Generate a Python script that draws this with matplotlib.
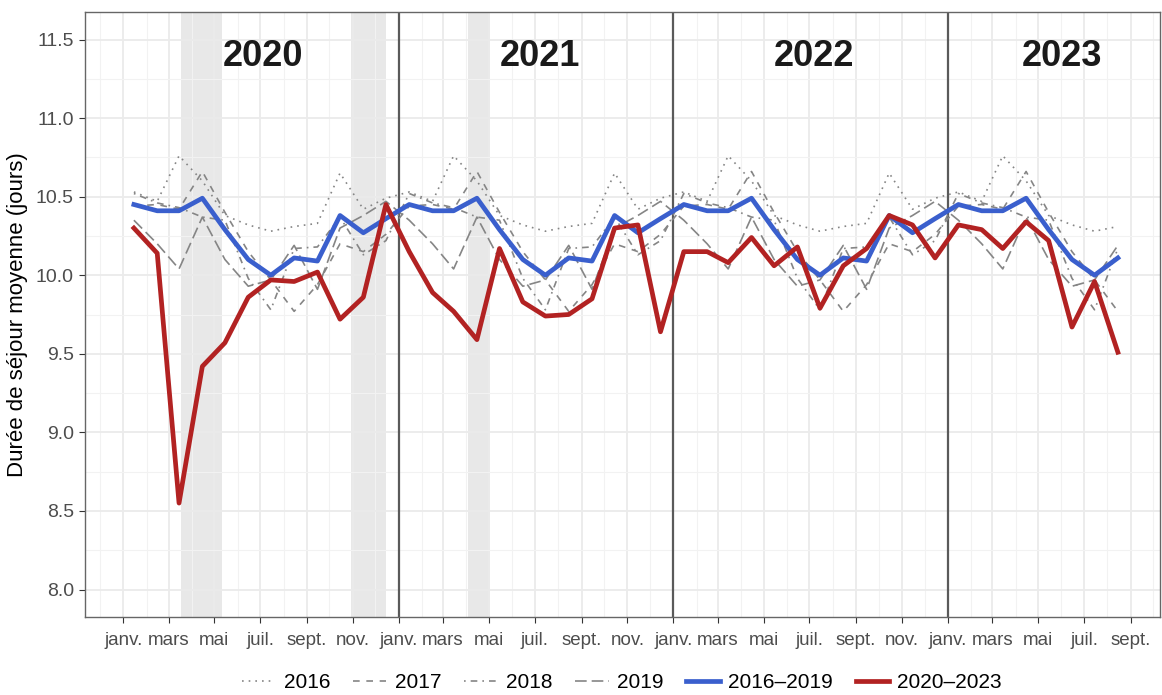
import matplotlib
matplotlib.use("Agg")
import matplotlib.pyplot as plt
import matplotlib.dates as mdates
import matplotlib.ticker as mticker
import numpy as np
import pandas as pd

plt.rcParams['font.family'] = ['Liberation Sans', 'DejaVu Sans']

# monthly data, Jan 2020 -> Aug 2023 (points drawn mid-month)
n_months = 44
dates = [pd.Timestamp(2020 + i // 12, i % 12 + 1, 15) for i in range(n_months)]

# reference years, one value per calendar month (janv. -> déc.)
y2016 = [10.53, 10.47, 10.76, 10.60, 10.38, 10.32, 10.28, 10.31, 10.33, 10.65, 10.42, 10.49]
y2017 = [10.44, 10.45, 10.42, 10.66, 10.40, 10.15, 9.97, 9.77, 9.94, 10.20, 10.15, 10.26]
y2018 = [10.52, 10.46, 10.43, 10.37, 10.35, 9.98, 9.78, 10.17, 10.18, 10.37, 10.13, 10.22]
y2019 = [10.35, 10.20, 10.04, 10.37, 10.10, 9.93, 9.97, 10.19, 9.91, 10.30, 10.38, 10.47]
mean_2016_2019 = [10.45, 10.41, 10.41, 10.49, 10.29, 10.10, 10.00, 10.11, 10.09, 10.38, 10.27, 10.36]

# observed 2020-2023
obs_2020_2023 = [
    10.30, 10.14, 8.55, 9.42, 9.57, 9.86, 9.97, 9.96, 10.02, 9.72, 9.86, 10.45,   # 2020
    10.15, 9.89, 9.77, 9.59, 10.17, 9.83, 9.74, 9.75, 9.85, 10.30, 10.32, 9.64,   # 2021
    10.15, 10.15, 10.08, 10.24, 10.06, 10.18, 9.79, 10.06, 10.17, 10.38, 10.32, 10.11,  # 2022
    10.32, 10.29, 10.17, 10.34, 10.22, 9.67, 9.96, 9.51,                          # 2023
]

# confinement periods (shaded)
lockdowns = [("2020-03-17", "2020-05-11"), ("2020-10-30", "2020-12-15"), ("2021-04-03", "2021-05-03")]
years = [2020, 2021, 2022, 2023]
year_label_dates = ["2020-07-04", "2021-07-08", "2022-07-07", "2023-06-01"]
month_labels = {1: "janv.", 3: "mars", 5: "mai", 7: "juil.", 9: "sept.", 11: "nov."}


def repeat_years(vals):
    return np.tile(vals, 4)[:n_months]


fig = plt.figure(figsize=(11.62, 6.95), dpi=100)
ax = fig.add_axes([85 / 1162, 1 - 617 / 695, (1160 - 85) / 1162, (617 - 12) / 695])

for start, end in lockdowns:
    ax.axvspan(pd.Timestamp(start), pd.Timestamp(end), color='#E8E8E8', lw=0, zorder=0.5)

for yr in years[1:]:
    ax.axvline(pd.Timestamp(yr, 1, 1), color='#5A5A5A', lw=1.6, zorder=1)

gray = '#858585'
ax.plot(dates, repeat_years(y2016), color=gray, lw=1.2, ls=(0, (1, 3)), label='2016', zorder=2)
ax.plot(dates, repeat_years(y2017), color=gray, lw=1.2, ls=(0, (4, 4)), label='2017', zorder=2)
ax.plot(dates, repeat_years(y2018), color=gray, lw=1.2, ls=(0, (1, 3, 4, 3)), label='2018', zorder=2)
ax.plot(dates, repeat_years(y2019), color=gray, lw=1.2, ls=(0, (7, 3)), label='2019', zorder=2)
ax.plot(dates, repeat_years(mean_2016_2019), color='#3A5FCD', lw=3.4, label='2016\u20132019', zorder=3)
ax.plot(dates, obs_2020_2023, color='#B22222', lw=3.4, label='2020\u20132023', zorder=4)

for yr, d in zip(years, year_label_dates):
    ax.text(pd.Timestamp(d), 11.39, str(yr), ha='center', va='center',
            fontsize=26, fontweight='bold', color='#1A1A1A')

# visible window (picture is cut just after the last tick)
ax.set_xlim(pd.Timestamp("2019-11-11"), pd.Timestamp("2023-10-10"))
ax.set_ylim(8.0 - 3.5 * 0.05, 11.5 + 3.5 * 0.05)

ax.xaxis.set_major_locator(mdates.MonthLocator(bymonth=[1, 3, 5, 7, 9, 11]))
ax.xaxis.set_minor_locator(mdates.MonthLocator(bymonth=[2, 4, 6, 8, 10, 12]))
ax.xaxis.set_major_formatter(mticker.FuncFormatter(lambda x, pos: month_labels[mdates.num2date(x).month]))
ax.yaxis.set_major_locator(mticker.MultipleLocator(0.5))
ax.yaxis.set_minor_locator(mticker.MultipleLocator(0.25))
ax.yaxis.set_major_formatter(mticker.FormatStrFormatter('%.1f'))

ax.grid(True, which='major', color='#EBEBEB', lw=1.3, zorder=0)
ax.grid(True, which='minor', color='#F2F2F2', lw=0.8, zorder=0)
ax.set_axisbelow(True)

ax.tick_params(axis='both', which='major', length=4, color='#333333', labelcolor='#4D4D4D')
ax.tick_params(axis='x', labelsize=13.5, pad=7)
ax.tick_params(axis='y', labelsize=14, pad=4)
ax.tick_params(axis='both', which='minor', length=0)

for sp in ax.spines.values():
    sp.set_color('#666666')
    sp.set_linewidth(1.0)

fig.text(18 / 1162, 1 - 315 / 695, 'Durée de séjour moyenne (jours)', rotation=90,
         ha='center', va='center', fontsize=16, color='black')

handles, labels = ax.get_legend_handles_labels()
fig.legend(handles, labels, loc='center', bbox_to_anchor=(622 / 1162, 1 - 683 / 695),
           ncol=6, frameon=False, fontsize=15, handlelength=1.6, columnspacing=1.1,
           handletextpad=0.4)

fig.savefig('out.png', dpi=100)
